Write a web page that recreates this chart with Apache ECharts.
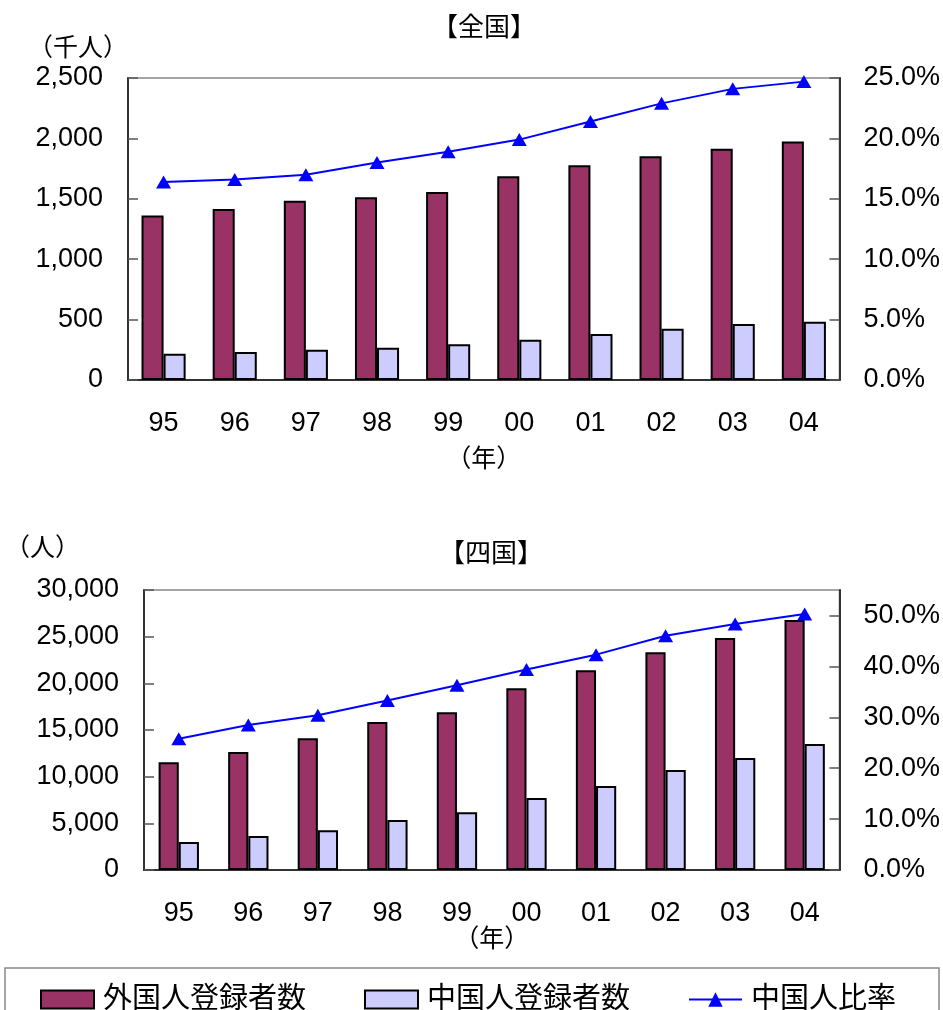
<!DOCTYPE html>
<html>
<head>
<meta charset="utf-8">
<script src="https://cdn.jsdelivr.net/npm/echarts@6/dist/echarts.min.js"></script>
<style>
  html, body { margin: 0; padding: 0; background: #fff; }
  #chart { width: 943px; height: 1010px; }
</style>
</head>
<body>
<div id="chart"></div>
<script>
// Years (two-digit labels)
const years = ['95', '96', '97', '98', '99', '00', '01', '02', '03', '04'];

// 全国 (thousands of people, ratio in %)
const zenkokuForeign = [1362, 1415, 1483, 1512, 1556, 1686, 1778, 1852, 1915, 1974];
const zenkokuChinese = [218, 232, 250, 268, 295, 333, 381, 425, 463, 483];
const zenkokuRatio = [16.4, 16.6, 17.0, 18.0, 18.9, 19.9, 21.4, 22.9, 24.1, 24.7];

// 四国 (people, ratio in %)
const shikokuForeign = [11540, 12640, 14110, 15860, 16890, 19460, 21390, 23320, 24860, 26790];
const shikokuChinese = [3000, 3640, 4250, 5360, 6180, 7710, 9000, 10710, 12000, 13500];
const shikokuRatio = [25.8, 28.5, 30.4, 33.3, 36.3, 39.4, 42.3, 46.0, 48.3, 50.3];

const seriesNames = ['外国人登録者数', '中国人登録者数', '中国人比率'];

const FONT = "'Liberation Sans', 'Noto Sans CJK JP', sans-serif";
const MAROON = '#993366';
const LAVENDER = '#CCCCFF';
const BLUE = '#0000FF';
const AXIS_DARK = '#333333';
const TICK_FONT = 27;

const chart = echarts.init(document.getElementById('chart'), null, { renderer: 'canvas' });

function commas(v) { return Number(v).toLocaleString('en-US'); }
function pct(v) { return Number(v).toFixed(1) + '%'; }

function xAxisFor(grid, nameGap) {
  return {
    gridIndex: grid,
    type: 'category',
    data: years,
    axisLine: { lineStyle: { color: AXIS_DARK, width: 2 } },
    axisTick: { inside: true, length: 9, lineStyle: { color: '#555', width: 1.5 } },
    axisLabel: { fontSize: TICK_FONT, color: '#000', margin: 30, fontFamily: FONT },
    splitLine: { show: false },
    name: '（年）',
    nameLocation: 'middle',
    nameGap: nameGap,
    nameTextStyle: { fontSize: 25, color: '#000', fontFamily: FONT }
  };
}

function leftAxis(grid, max, interval, name, namePadRight, nameGap) {
  return {
    gridIndex: grid,
    type: 'value',
    min: 0, max: max, interval: interval,
    position: 'left',
    axisLine: { show: true, lineStyle: { color: AXIS_DARK, width: 2 } },
    axisTick: { show: true, inside: true, length: 10, lineStyle: { color: '#555', width: 1.5 } },
    axisLabel: { fontSize: TICK_FONT, color: '#000', margin: 25, formatter: commas, fontFamily: FONT },
    splitLine: { show: false },
    name: name,
    nameLocation: 'end',
    nameGap: nameGap,
    nameTextStyle: { fontSize: 25, color: '#000', align: 'right', padding: [0, namePadRight, 0, 0], fontFamily: FONT }
  };
}

function rightAxis(grid, max, interval) {
  return {
    gridIndex: grid,
    type: 'value',
    min: 0, max: max, interval: interval,
    position: 'right',
    axisLine: { show: true, lineStyle: { color: AXIS_DARK, width: 2 } },
    axisTick: { show: true, inside: true, length: 10, lineStyle: { color: '#555', width: 1.5 } },
    axisLabel: { fontSize: TICK_FONT, color: '#000', margin: 24, formatter: pct, showMaxLabel: max % interval === 0, fontFamily: FONT },
    splitLine: { show: false }
  };
}

function barSeries(name, data, color, xi, yi, gap) {
  return {
    name: name, type: 'bar',
    xAxisIndex: xi, yAxisIndex: yi,
    data: data,
    barGap: '0%',
    barCategoryGap: gap,
    itemStyle: { color: color, borderColor: '#000', borderWidth: 2 }
  };
}

function lineSeries(name, data, xi, yi) {
  return {
    name: name, type: 'line',
    xAxisIndex: xi, yAxisIndex: yi,
    data: data,
    symbol: 'triangle',
    symbolSize: [15, 13],
    lineStyle: { color: BLUE, width: 2 },
    itemStyle: { color: BLUE },
    z: 5
  };
}

const option = {
  animation: false,
  backgroundColor: '#fff',
  textStyle: { fontFamily: FONT, color: '#000' },
  title: [
    { text: '【全国】', left: 479, top: 11, textAlign: 'center',
      textStyle: { fontSize: 26, fontWeight: 'normal', color: '#000', fontFamily: FONT } },
    { text: '【四国】', left: 486, top: 537, textAlign: 'center',
      textStyle: { fontSize: 26, fontWeight: 'normal', color: '#000', fontFamily: FONT } }
  ],
  legend: {
    data: [
      { name: seriesNames[0], icon: 'rect' },
      { name: seriesNames[1], icon: 'rect' },
      { name: seriesNames[2] }
    ],
    left: 35, top: 980,
    itemWidth: 53, itemHeight: 18, itemGap: 58,
    textStyle: { fontSize: 29, color: '#000', padding: [0, 0, 0, 4], fontFamily: FONT },
    selectedMode: false
  },
  graphic: [
    { type: 'rect', z: -1,
      shape: { x: 5, y: 968, width: 934, height: 60 },
      style: { fill: 'none', stroke: '#888', lineWidth: 1.5 } }
  ],
  grid: [
    { left: 128, right: 98, top: 78, height: 302, show: true, borderColor: '#888', borderWidth: 1.5, backgroundColor: 'transparent' },
    { left: 144, right: 94, top: 590, height: 280, show: true, borderColor: '#888', borderWidth: 1.5, backgroundColor: 'transparent' }
  ],
  xAxis: [xAxisFor(0, 68), xAxisFor(1, 58)],
  yAxis: [
    leftAxis(0, 2500, 500, '（千人）', 0, 16),
    rightAxis(0, 25, 5),
    leftAxis(1, 30000, 5000, '（人）', 64, 28),
    rightAxis(1, 55, 10)
  ],
  series: [
    barSeries(seriesNames[0], zenkokuForeign, MAROON, 0, 0, '38%'),
    barSeries(seriesNames[1], zenkokuChinese, LAVENDER, 0, 0, '38%'),
    lineSeries(seriesNames[2], zenkokuRatio, 0, 1),
    barSeries(seriesNames[0], shikokuForeign, MAROON, 1, 2, '42%'),
    barSeries(seriesNames[1], shikokuChinese, LAVENDER, 1, 2, '42%'),
    lineSeries(seriesNames[2], shikokuRatio, 1, 3)
  ]
};

chart.setOption(option);
</script>
</body>
</html>
